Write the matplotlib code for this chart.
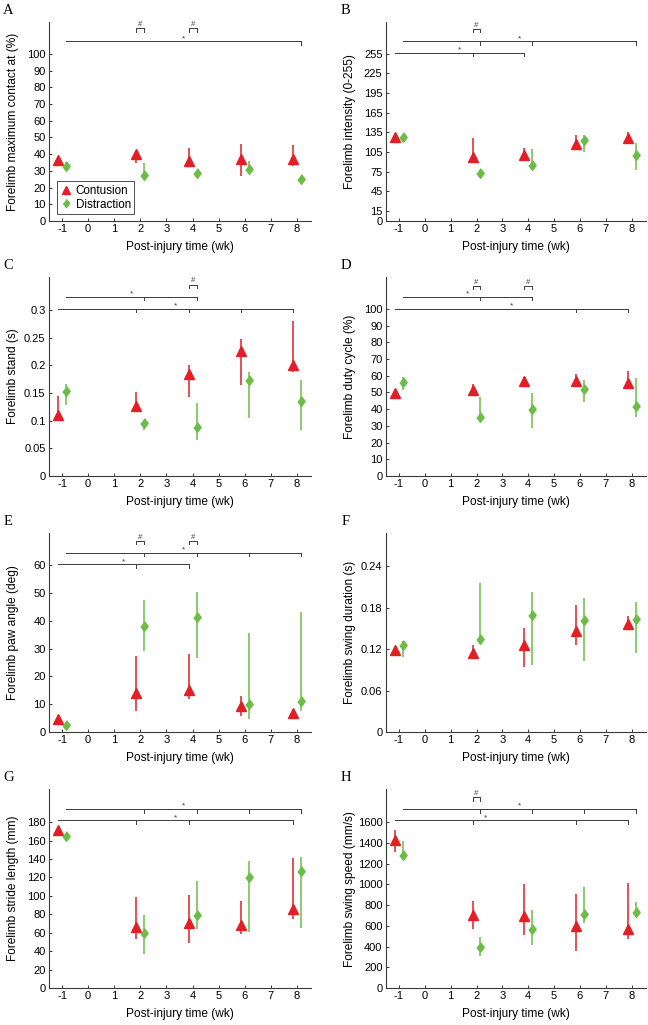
import matplotlib
matplotlib.use('Agg')
import matplotlib.pyplot as plt
from matplotlib.lines import Line2D
from matplotlib.ticker import FuncFormatter

plt.rcParams['font.family'] = ['Liberation Sans', 'DejaVu Sans']

weeks = [-1, 2, 4, 6, 8]
xticks = [-1, 0, 1, 2, 3, 4, 5, 6, 7, 8]

# A - maximum contact at (%)
a_con = [36.5, 40, 36, 37, 37]
a_con_lo = [35, 35, 33, 27, 33]
a_con_hi = [37.5, 42, 43.7, 46, 45.7]
a_dis = [33, 27.8, 28.6, 31.4, 25]
a_dis_lo = [30.4, 24.9, 26.5, 29.4, 23.5]
a_dis_hi = [35.4, 34.8, 30.5, 35.8, 26.5]

# B - intensity (0-255)
b_con = [128, 98, 100, 117, 127]
b_con_lo = [125, 95, 96, 113, 117]
b_con_hi = [131, 126, 110.5, 131, 136]
b_dis = [128, 73.5, 86, 123, 101]
b_dis_lo = [125, 69, 77.5, 105, 77.5]
b_dis_hi = [132, 77, 109.5, 131, 119]

# C - stand (s)
c_con = [0.111, 0.1266, 0.1836, 0.2256, 0.2]
c_con_lo = [0.105, 0.116, 0.143, 0.164, 0.188]
c_con_hi = [0.144, 0.151, 0.2, 0.248, 0.28]
c_dis = [0.1536, 0.095, 0.088, 0.174, 0.1356]
c_dis_lo = [0.129, 0.083, 0.065, 0.104, 0.083]
c_dis_hi = [0.166, 0.102, 0.132, 0.188, 0.173]

# D - duty cycle (%)
d_con = [49.7, 51.7, 56.9, 57, 55.9]
d_con_lo = [48.5, 51, 53.3, 53.3, 52.3]
d_con_hi = [51, 55.3, 59.2, 61.2, 62.6]
d_dis = [56.3, 35.4, 40, 51.9, 42]
d_dis_lo = [51.3, 34.4, 28.8, 44.3, 35.4]
d_dis_hi = [59.2, 47.3, 49.7, 57.3, 58.6]

# E - paw angle (deg)
e_con = [4.5, 14, 15.2, 9.3, 6.7]
e_con_lo = [3.8, 7.7, 12, 5.9, 4.8]
e_con_hi = [5.2, 27.3, 28, 12.8, 8]
e_dis = [2.5, 38, 41.3, 10.2, 11.3]
e_dis_lo = [1.8, 29.2, 26.7, 4.5, 7.5]
e_dis_hi = [3.2, 47.5, 50.5, 35.6, 43.1]

# F - swing duration (s)
f_con = [0.119, 0.1143, 0.1253, 0.1468, 0.1563]
f_con_lo = [0.117, 0.106, 0.094, 0.1253, 0.1477]
f_con_hi = [0.121, 0.126, 0.150, 0.1836, 0.168]
f_dis = [0.1253, 0.1348, 0.169, 0.162, 0.1635]
f_dis_lo = [0.1085, 0.128, 0.0966, 0.1028, 0.1143]
f_dis_hi = [0.1315, 0.216, 0.2027, 0.1936, 0.1884]

# G - stride length (mm)
g_con = [171, 66.6, 70.1, 68, 85.2]
g_con_lo = [169, 53.7, 48.3, 59, 74.4]
g_con_hi = [173, 98.4, 100.6, 94.1, 140.7]
g_dis = [165.4, 59.4, 79.5, 120, 127]
g_dis_lo = [163.5, 36.9, 64.4, 61.2, 65.5]
g_dis_hi = [167, 79, 115.6, 137.8, 142.4]

# H - swing speed (mm/s)
h_con = [1425, 700, 693, 598, 572]
h_con_lo = [1313, 566, 509, 359, 477]
h_con_hi = [1520, 843, 1005, 906, 1011]
h_dis = [1282, 391, 566, 716, 735]
h_dis_lo = [1266, 312, 413, 623, 703]
h_dis_hi = [1418, 493, 751, 970, 827]

# significance lines: (group, weeks compared, height, star x or None)
a_stars = [('dis', [-1, 8], 107.6, None)]
b_stars = [('dis', [-1, 2, 4, 8], 274.2, None), ('con', [-1, 2, 4], 256.5, None)]
c_stars = [('dis', [-1, 2, 4], 0.3234, None), ('con', [-1, 2, 4, 6, 8], 0.3018, None)]
d_stars = [('dis', [-1, 2, 4], 107.2, None), ('con', [-1, 6, 8], 100, None)]
e_stars = [('dis', [-1, 2, 4, 6, 8], 64.5, None), ('con', [-1, 2, 4], 60.3, None)]
f_stars = []
g_stars = [('dis', [-1, 2, 4, 6, 8], 194.3, None), ('con', [-1, 2, 4, 8], 181.8, None)]
h_stars = [('dis', [-1, 2, 4, 6, 8], 1727, None), ('con', [-1, 2, 6, 8], 1616, 2.35)]

# between-group brackets: (weeks, height)
a_hash = ([2, 4], 115.3)
b_hash = ([2], 293)
c_hash = ([4], 0.3456)
d_hash = ([2, 4], 113.9)
e_hash = ([2, 4], 68.9)
f_hash = ([], 0)
g_hash = ([], 0)
h_hash = ([2], 1838)

RED = '#e31e25'
GREEN = '#6cbd45'
LINE = '#3a3a3a'
OFF = 0.15
DIAMOND = [(0, 1), (0.75, 0), (0, -1), (-0.75, 0)]


def errbar(ax, x, y, lo, hi, color, marker, ms):
    yerr = [[v - l for v, l in zip(y, lo)], [h - v for v, h in zip(y, hi)]]
    ax.errorbar(x, y, yerr=yerr, fmt='none', ecolor=color, elinewidth=1.1, capsize=0, zorder=2)
    ax.plot(x, y, linestyle='none', marker=marker, ms=ms, color=color, mec=color, zorder=3)


def panel(ax, letter, ylabel, ymax, yticks, con, con_lo, con_hi, dis, dis_lo, dis_hi, stars, hashes):
    xc = [w - OFF for w in weeks]
    xd = [w + OFF for w in weeks]
    errbar(ax, xc, con, con_lo, con_hi, RED, '^', 6.5)
    errbar(ax, xd, dis, dis_lo, dis_hi, GREEN, DIAMOND, 7)

    tick = ymax * 0.018
    for group, wk, y, sx in stars:
        off = -OFF if group == 'con' else OFF
        xs = [w + off for w in wk]
        ax.plot([xs[0], xs[-1]], [y, y], color=LINE, lw=0.7, zorder=1)
        for x in xs[1:]:
            ax.plot([x, x], [y, y - tick], color=LINE, lw=0.7, zorder=1)
        if sx is None:
            sx = (xs[0] + xs[-1]) / 2
        ax.annotate('*', (sx, y), xytext=(0, 0.8), textcoords='offset points',
                    ha='center', va='baseline', fontsize=6, color=LINE)
    hw, hy = hashes
    for w in hw:
        ax.plot([w - OFF, w - OFF, w + OFF, w + OFF], [hy - tick, hy, hy, hy - tick],
                color=LINE, lw=0.7, zorder=1)
        ax.annotate('#', (w, hy), xytext=(0, 1.5), textcoords='offset points',
                    ha='center', va='baseline', fontsize=5.5, color=LINE)

    ax.set_xlim(-1.5, 8.55)
    ax.set_ylim(0, ymax)
    ax.set_xticks(xticks)
    ax.set_yticks(yticks)
    ax.yaxis.set_major_formatter(FuncFormatter(lambda v, p: '%g' % v))
    ax.xaxis.set_major_formatter(FuncFormatter(lambda v, p: '%g' % v))
    for s in ['top', 'right']:
        ax.spines[s].set_visible(False)
    for s in ['left', 'bottom']:
        ax.spines[s].set_color(LINE)
        ax.spines[s].set_linewidth(0.8)
    ax.tick_params(direction='in', length=2.5, width=0.7, color=LINE, labelsize=8, pad=2.5)
    ax.set_ylabel(ylabel, fontsize=8.6)
    ax.set_xlabel('Post-injury time (wk)', fontsize=8.6)
    ax.yaxis.set_label_coords(-0.115, 0.5)
    ax.xaxis.set_label_coords(0.5, -0.1)
    ax.text(-0.155, 1.06, letter, transform=ax.transAxes, fontsize=10.5,
            family=['Liberation Serif', 'DejaVu Serif'], ha='center', va='center')


fig = plt.figure(figsize=(6.48, 10.25), dpi=100)
lefts = [0.0756, 0.5957]
widths = [0.405, 0.401]
bottoms = [0.7844, 0.5356, 0.2859, 0.0361]
h = 0.194

axA = fig.add_axes([lefts[0], bottoms[0], widths[0], h])
axB = fig.add_axes([lefts[1], bottoms[0], widths[1], h])
axC = fig.add_axes([lefts[0], bottoms[1], widths[0], h])
axD = fig.add_axes([lefts[1], bottoms[1], widths[1], h])
axE = fig.add_axes([lefts[0], bottoms[2], widths[0], h])
axF = fig.add_axes([lefts[1], bottoms[2], widths[1], h])
axG = fig.add_axes([lefts[0], bottoms[3], widths[0], h])
axH = fig.add_axes([lefts[1], bottoms[3], widths[1], h])

panel(axA, 'A', 'Forelimb maximum contact at (%)', 119, range(0, 101, 10),
      a_con, a_con_lo, a_con_hi, a_dis, a_dis_lo, a_dis_hi, a_stars, a_hash)
panel(axB, 'B', 'Forelimb intensity (0-255)', 303, [0, 15, 45, 75, 105, 135, 165, 195, 225, 255],
      b_con, b_con_lo, b_con_hi, b_dis, b_dis_lo, b_dis_hi, b_stars, b_hash)
panel(axC, 'C', 'Forelimb stand (s)', 0.359, [0, 0.05, 0.1, 0.15, 0.2, 0.25, 0.3],
      c_con, c_con_lo, c_con_hi, c_dis, c_dis_lo, c_dis_hi, c_stars, c_hash)
panel(axD, 'D', 'Forelimb duty cycle (%)', 119, range(0, 101, 10),
      d_con, d_con_lo, d_con_hi, d_dis, d_dis_lo, d_dis_hi, d_stars, d_hash)
panel(axE, 'E', 'Forelimb paw angle (deg)', 71.6, range(0, 61, 10),
      e_con, e_con_lo, e_con_hi, e_dis, e_dis_lo, e_dis_hi, e_stars, e_hash)
panel(axF, 'F', 'Forelimb swing duration (s)', 0.288, [0, 0.06, 0.12, 0.18, 0.24],
      f_con, f_con_lo, f_con_hi, f_dis, f_dis_lo, f_dis_hi, f_stars, f_hash)
panel(axG, 'G', 'Forelimb stride length (mm)', 215.8, range(0, 181, 20),
      g_con, g_con_lo, g_con_hi, g_dis, g_dis_lo, g_dis_hi, g_stars, g_hash)
panel(axH, 'H', 'Forelimb swing speed (mm/s)', 1918, range(0, 1601, 200),
      h_con, h_con_lo, h_con_hi, h_dis, h_dis_lo, h_dis_hi, h_stars, h_hash)

handles = [Line2D([], [], ls='none', marker='^', ms=5.5, color=RED),
           Line2D([], [], ls='none', marker=DIAMOND, ms=6, color=GREEN)]
leg = axA.legend(handles, ['Contusion', 'Distraction'], loc='lower left',
                 bbox_to_anchor=(0.03, 0.035), borderaxespad=0, fontsize=8.4,
                 frameon=True, fancybox=False, edgecolor='black', handlelength=1.0,
                 handletextpad=0.3, labelspacing=0.15, borderpad=0.3)
leg.get_frame().set_linewidth(0.6)

fig.savefig('out.png', dpi=100)
